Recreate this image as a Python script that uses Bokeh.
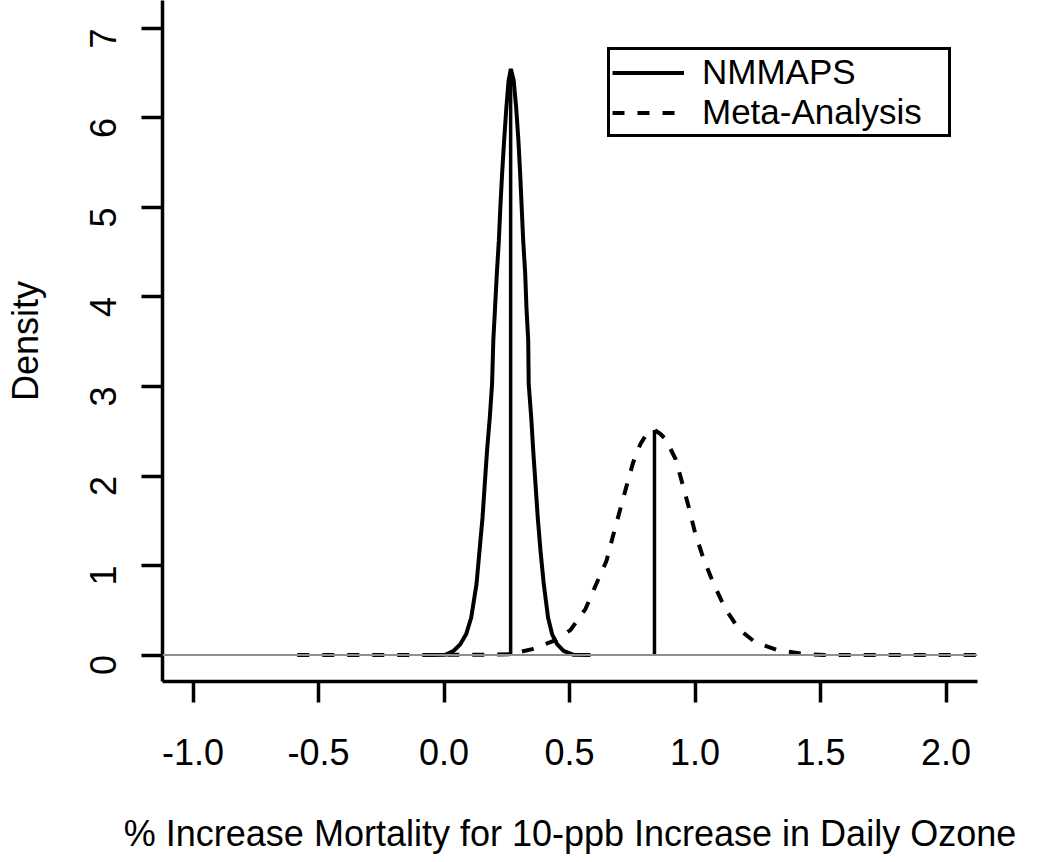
import math
from bokeh.plotting import figure
from bokeh.models import (FixedTicker, Legend, LegendItem, Span, Range1d)
from bokeh.embed import file_html
from bokeh.resources import INLINE

# ---- data ----
nmmaps_x = [-0.05, 0.005, 0.038, 0.065, 0.088, 0.108, 0.129, 0.141, 0.153, 0.162,
            0.171, 0.182, 0.191, 0.196, 0.203, 0.210, 0.218, 0.224, 0.231, 0.239,
            0.248, 0.257, 0.266, 0.277, 0.287, 0.296, 0.303, 0.309, 0.315, 0.323,
            0.328, 0.335, 0.337, 0.347, 0.355, 0.364, 0.373, 0.384, 0.397, 0.414,
            0.430, 0.450, 0.476, 0.516, 0.583]
nmmaps_y = [0.0, 0.003, 0.048, 0.123, 0.235, 0.42, 0.793, 1.165, 1.537, 1.911,
            2.283, 2.655, 3.028, 3.514, 3.884, 4.260, 4.629, 5.001, 5.374, 5.746,
            6.118, 6.42, 6.547, 6.42, 6.118, 5.746, 5.374, 5.001, 4.629, 4.260,
            3.884, 3.514, 3.028, 2.655, 2.283, 1.911, 1.537, 1.165, 0.793, 0.42,
            0.235, 0.123, 0.048, 0.003, 0.0]

meta_x = [-0.585, 0.145, 0.264, 0.351, 0.437, 0.503, 0.563, 0.603, 0.647, 0.673,
          0.700, 0.729, 0.753, 0.782, 0.811, 0.838, 0.862, 0.882, 0.922, 0.948,
          0.975, 1.001, 1.034, 1.074, 1.121, 1.174, 1.240, 1.327, 1.420, 1.512, 2.13]
meta_y = [0.0, 0.003, 0.011, 0.067, 0.160, 0.279, 0.514, 0.774, 1.054, 1.333,
          1.612, 1.911, 2.152, 2.357, 2.487, 2.514, 2.469, 2.413, 2.190, 1.929,
          1.649, 1.352, 1.073, 0.793, 0.514, 0.291, 0.141, 0.056, 0.018, 0.0, 0.0]

center_x = [0.265, 0.838]
center_top = [6.547, 2.514]

series_names = ["NMMAPS", "Meta-Analysis"]
x_ticks = [-1.0, -0.5, 0.0, 0.5, 1.0, 1.5, 2.0]
x_tick_labels = ["-1.0", "-0.5", "0.0", "0.5", "1.0", "1.5", "2.0"]
y_ticks = [0, 1, 2, 3, 4, 5, 6, 7]
y_tick_labels = ["0", "1", "2", "3", "4", "5", "6", "7"]

FONT = "Liberation Sans"
FS = "36px"

p = figure(width=1050, height=862, output_backend="svg", toolbar_location=None,
           x_range=Range1d(-1.122, 2.125), y_range=Range1d(-0.295, 7.311),
           min_border_left=162, min_border_right=73, min_border_top=0,
           min_border_bottom=181)
p.outline_line_color = None
p.grid.visible = False
p.background_fill_color = "white"
p.border_fill_color = "white"

# zero reference line
p.add_layout(Span(location=0, dimension="width", line_color="#8f8f8f", line_width=2))

r_solid = p.line(nmmaps_x, nmmaps_y, line_color="black", line_width=4)
r_dash = p.line(meta_x, meta_y, line_color="black", line_width=4, line_dash="12 13")
p.segment(x0=center_x, y0=[0, 0], x1=center_x, y1=center_top,
          line_color="black", line_width=3.5)

for ax in (p.xaxis[0], p.yaxis[0]):
    ax.axis_line_width = 3.5
    ax.axis_line_color = "black"
    ax.major_tick_line_width = 3.5
    ax.major_tick_line_color = "black"
    ax.major_tick_out = 21
    ax.major_tick_in = 0
    ax.minor_tick_out = 0
    ax.minor_tick_in = 0
    ax.major_label_text_font = FONT
    ax.major_label_text_font_size = FS
    ax.major_label_text_color = "black"
    ax.axis_label_text_font = FONT
    ax.axis_label_text_font_size = FS
    ax.axis_label_text_font_style = "normal"
    ax.axis_label_text_color = "black"

p.xaxis.ticker = FixedTicker(ticks=x_ticks)
p.xaxis.major_label_overrides = {t: l for t, l in zip(x_ticks, x_tick_labels)}
p.yaxis.ticker = FixedTicker(ticks=y_ticks)
p.yaxis.major_label_overrides = {t: l for t, l in zip(y_ticks, y_tick_labels)}
p.yaxis.major_label_orientation = math.pi / 2

p.xaxis.axis_label = "% Increase Mortality for 10-ppb Increase in Daily Ozone"
p.yaxis.axis_label = "Density"
p.xaxis.major_label_standoff = 36
p.xaxis.axis_label_standoff = 45
p.yaxis.major_label_standoff = 38
p.yaxis.axis_label_standoff = 29

legend = Legend(items=[LegendItem(label=series_names[0], renderers=[r_solid]),
                       LegendItem(label=series_names[1], renderers=[r_dash])],
                location=(445, 544))
legend.label_text_font = FONT
legend.label_text_font_size = "35px"
legend.label_text_color = "black"
legend.label_standoff = 18
legend.glyph_width = 72
legend.glyph_height = 39
legend.label_height = 39
legend.label_width = 244
legend.padding = 2
legend.spacing = 0
legend.margin = 0
legend.border_line_color = "black"
legend.border_line_alpha = 1
legend.border_line_width = 3
legend.background_fill_color = "white"
legend.background_fill_alpha = 1
p.add_layout(legend, "center")

open("out.html", "w").write(file_html(p, INLINE))
